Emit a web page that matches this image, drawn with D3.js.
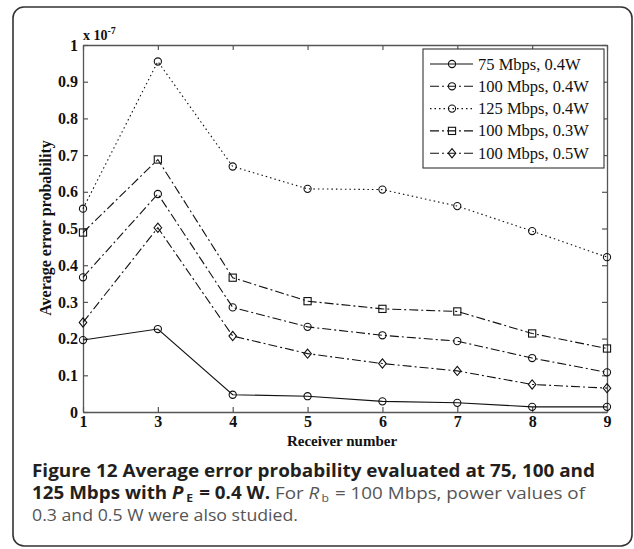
<!DOCTYPE html>
<html>
<head>
<meta charset="utf-8">
<script src="https://cdn.jsdelivr.net/npm/d3@7"></script>
<style>
	html, body { margin: 0; padding: 0; background: #fff; }
	svg { display: block; }
</style>
</head>
<body>
<div class="plot"></div>
<script>

// Receiver numbers (receiver 2 is not in the study)
const receivers = ['1', '3', '4', '5', '6', '7', '8', '9'];

// Average error probability, in units of 1e-7
const p75_04 = [0.196, 0.226, 0.047, 0.043, 0.029, 0.025, 0.014, 0.014];
const p100_04 = [0.367, 0.594, 0.285, 0.232, 0.209, 0.193, 0.147, 0.108];
const p125_04 = [0.554, 0.955, 0.669, 0.608, 0.606, 0.561, 0.493, 0.422];
const p100_03 = [0.489, 0.688, 0.366, 0.302, 0.281, 0.274, 0.214, 0.173];
const p100_05 = [0.244, 0.502, 0.207, 0.159, 0.132, 0.112, 0.075, 0.065];

const seriesNames = ['75 Mbps, 0.4W', '100 Mbps, 0.4W', '125 Mbps, 0.4W', '100 Mbps, 0.3W', '100 Mbps, 0.5W'];
const yTicks = [0, 0.1, 0.2, 0.3, 0.4, 0.5, 0.6, 0.7, 0.8, 0.9, 1];

const series = [
	{name: seriesNames[0], values: p75_04, dash: null, marker: 'circle'},
	{name: seriesNames[1], values: p100_04, dash: '9,3,2,3', marker: 'circle'},
	{name: seriesNames[2], values: p125_04, dash: '1.5,3', marker: 'circle'},
	{name: seriesNames[3], values: p100_03, dash: '9,3,2,3', marker: 'square'},
	{name: seriesNames[4], values: p100_05, dash: '9,3,2,3', marker: 'diamond'}
];

const W = 634, H = 549;
const mLeft = 83, mRight = 607, mTop = 45, mBottom = 412;
const serif = '"Liberation Serif", "Times New Roman", serif';
const sans = '"Open Sans", "Noto Sans", sans-serif';

const svg = d3.select('.plot').append('svg')
	.attr('width', W)
	.attr('height', H);

// Figure frame
svg.append('rect')
	.attr('x', 13).attr('y', 7)
	.attr('width', 619).attr('height', 539)
	.attr('rx', 11)
	.attr('fill', 'none')
	.attr('stroke', '#333')
	.attr('stroke-width', 1.6);

const x = d3.scalePoint().domain(receivers).range([mLeft, mRight]);
const y = d3.scaleLinear().domain([0, 1]).range([mBottom, mTop]);

const axisColor = '#555';
function styleAxis(g){
	g.selectAll('.domain').attr('stroke', axisColor).attr('stroke-width', 1.3);
	g.selectAll('.tick line').attr('stroke', axisColor).attr('stroke-width', 1.2);
	g.selectAll('.tick text')
		.attr('fill', '#111')
		.style('font-family', serif)
		.style('font-size', '16px')
		.style('font-weight', 'bold');
}

svg.append('g')
	.attr('transform', `translate(0,${mBottom})`)
	.call(d3.axisBottom(x).tickSize(-5).tickSizeOuter(0).tickPadding(4))
	.call(styleAxis);
svg.append('g')
	.attr('transform', `translate(0,${mTop})`)
	.call(d3.axisTop(x).tickSize(-5).tickSizeOuter(0).tickFormat(''))
	.call(styleAxis);
svg.append('g')
	.attr('transform', `translate(${mLeft},0)`)
	.call(d3.axisLeft(y).tickValues(yTicks).tickSize(-5).tickSizeOuter(0).tickPadding(5)
		.tickFormat(d => d3.format('~g')(d)))
	.call(styleAxis);
svg.append('g')
	.attr('transform', `translate(${mRight},0)`)
	.call(d3.axisRight(y).tickValues(yTicks).tickSize(-5).tickSizeOuter(0).tickFormat(''))
	.call(styleAxis);

// x 10^-7 multiplier
const mult = svg.append('text')
	.attr('x', mLeft).attr('y', 40)
	.attr('fill', '#111')
	.style('font-family', serif)
	.style('font-size', '14px')
	.style('font-weight', 'bold');
mult.append('tspan').text('x 10');
mult.append('tspan').attr('dy', -6).style('font-size', '10px').text('-7');

// Axis titles
svg.append('text')
	.attr('x', 342).attr('y', 446)
	.attr('text-anchor', 'middle')
	.attr('fill', '#111')
	.style('font-family', serif)
	.style('font-size', '15px')
	.style('font-weight', 'bold')
	.text('Receiver number');
svg.append('text')
	.attr('transform', 'translate(51,228) rotate(-90)')
	.attr('text-anchor', 'middle')
	.attr('fill', '#111')
	.style('font-family', serif)
	.style('font-size', '16px')
	.style('font-weight', 'bold')
	.text('Average error probability');

// Markers
function drawMarker(g, type, cx, cy){
	if(type === 'circle'){
		g.append('circle').attr('cx', cx).attr('cy', cy).attr('r', 3.6);
	} else if(type === 'square'){
		g.append('rect').attr('x', cx - 3.6).attr('y', cy - 3.6).attr('width', 7.2).attr('height', 7.2);
	} else {
		g.append('path').attr('d', `M${cx},${cy - 4.6}L${cx + 3.8},${cy}L${cx},${cy + 4.6}L${cx - 3.8},${cy}Z`);
	}
}

const line = d3.line()
	.x((d, i) => x(receivers[i]))
	.y(d => y(d));

series.forEach(s => {
	svg.append('path')
		.datum(s.values)
		.attr('d', line)
		.attr('fill', 'none')
		.attr('stroke', '#111')
		.attr('stroke-width', 1.1)
		.attr('stroke-dasharray', s.dash);
	const mg = svg.append('g')
		.attr('fill', 'none')
		.attr('stroke', '#111')
		.attr('stroke-width', 1.1);
	s.values.forEach((v, i) => drawMarker(mg, s.marker, x(receivers[i]), y(v)));
});

// Legend
const lg = svg.append('g');
lg.append('rect')
	.attr('x', 423).attr('y', 49)
	.attr('width', 181).attr('height', 119)
	.attr('fill', '#fff')
	.attr('stroke', '#333')
	.attr('stroke-width', 1.1);
series.forEach((s, i) => {
	const ly = 64 + i * 22.3;
	lg.append('line')
		.attr('x1', 430).attr('x2', 473)
		.attr('y1', ly).attr('y2', ly)
		.attr('stroke', '#111')
		.attr('stroke-width', 1.1)
		.attr('stroke-dasharray', s.dash);
	const mg = lg.append('g').attr('fill', 'none').attr('stroke', '#111').attr('stroke-width', 1.1);
	drawMarker(mg, s.marker, 452, ly);
	lg.append('text')
		.attr('x', 478).attr('y', ly + 5.5)
		.attr('fill', '#111')
		.style('font-family', serif)
		.style('font-size', '16.5px')
		.text(s.name);
});

// Caption
const cap = svg.append('g')
	.style('font-family', sans)
	.style('font-size', '17px');
const l1 = cap.append('text')
	.attr('x', 32).attr('y', 477)
	.attr('fill', '#231f20')
	.style('font-weight', 'bold')
	.text('Figure 12 Average error probability evaluated at 75, 100 and');
const l2 = cap.append('text').attr('x', 32).attr('y', 499).attr('fill', '#231f20');
l2.append('tspan').style('font-weight', 'bold').text('125 Mbps with ');
l2.append('tspan').style('font-weight', 'bold').style('font-style', 'italic').text('P');
l2.append('tspan').style('font-weight', 'bold').style('font-size', '11px').attr('dx', 2.5).attr('dy', 3).text('E');
l2.append('tspan').style('font-weight', 'bold').attr('dx', 1).attr('dy', -3).text(' = 0.4 W.');
l2.append('tspan').attr('fill', '#555').text(' For ');
l2.append('tspan').attr('fill', '#555').style('font-style', 'italic').text('R');
l2.append('tspan').attr('fill', '#555').style('font-size', '11px').attr('dx', 2).attr('dy', 3).text('b');
l2.append('tspan').attr('fill', '#555').attr('dx', 1).attr('dy', -3).text(' = 100 Mbps, power values of');
const l3 = cap.append('text')
	.attr('x', 32).attr('y', 521)
	.attr('fill', '#555')
	.text('0.3 and 0.5 W were also studied.');

// Stretch caption lines to the widths they take in the figure (its face is narrower)
[[l1, 563], [l2, 553], [l3, 266]].forEach(([t, w]) => {
	t.attr('textLength', w).attr('lengthAdjust', 'spacingAndGlyphs');
});

</script>
</body>
</html>
